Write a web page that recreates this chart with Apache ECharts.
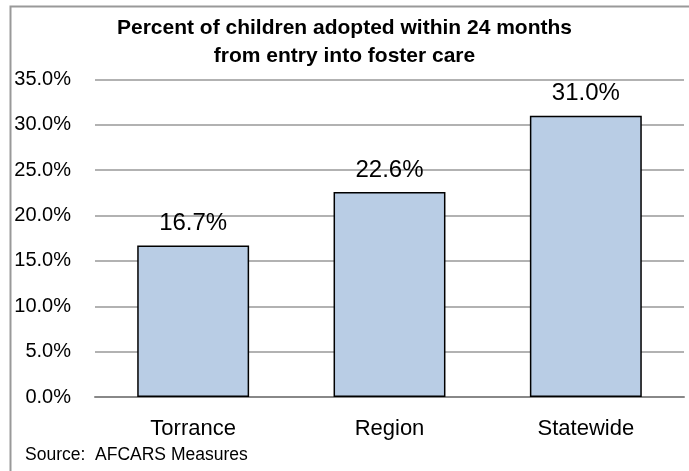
<!DOCTYPE html>
<html>
<head>
<meta charset="utf-8">
<script src="https://cdn.jsdelivr.net/npm/echarts@6/dist/echarts.min.js"></script>
<style>html,body{margin:0;padding:0;background:#fff}#c{width:689px;height:471px}</style>
</head>
<body>
<div id="c"></div>
<script>
const categories = ['Torrance', 'Region', 'Statewide'];
const values = [16.7, 22.6, 31.0];
const titleLines = ['Percent of children adopted within 24 months', 'from entry into foster care'];
const sourceNote = 'Source:  AFCARS Measures';
const FONT = '"Liberation Sans", Arial, sans-serif';

const chart = echarts.init(document.getElementById('c'), null, {renderer: 'canvas'});
chart.setOption({
  animation: false,
  backgroundColor: '#fff',
  title: {
    text: titleLines.join('\n'),
    left: 'center',
    top: 9,
    textStyle: {fontFamily: FONT, fontSize: 21, fontWeight: 'bold', color: '#000', lineHeight: 28}
  },
  grid: {left: 95, right: 5, top: 79.5, bottom: 74, containLabel: false},
  xAxis: {
    type: 'category',
    data: categories,
    axisLine: {show: true, lineStyle: {color: '#888', width: 2}},
    axisTick: {show: false},
    axisLabel: {fontFamily: FONT, fontSize: 22, color: '#000', margin: 21}
  },
  yAxis: {
    type: 'value',
    min: 0, max: 35, interval: 5,
    axisLine: {show: false},
    axisTick: {show: false},
    axisLabel: {fontFamily: FONT, fontSize: 20, color: '#000', margin: 24,
      formatter: v => v.toFixed(1) + '%'},
    splitLine: {lineStyle: {color: '#999', width: 1.5}}
  },
  series: [{
    type: 'bar',
    data: values,
    barWidth: '57%',
    itemStyle: {color: '#B9CDE5', borderColor: '#000', borderWidth: 1.5},
    label: {show: true, position: 'top', distance: 10, fontFamily: FONT, fontSize: 24, color: '#000',
      formatter: p => p.value.toFixed(1) + '%'}
  }],
  graphic: [
    {type: 'rect', left: 8, top: 4, shape: {width: 700, height: 500}, style: {fill: 'none', stroke: '#999', lineWidth: 2}, silent: true, z: -1},
    {type: 'text', left: 25, top: 446, style: {text: sourceNote, fontFamily: FONT, fontSize: 17.5, fill: '#000'}}
  ]
});
</script>
</body>
</html>
